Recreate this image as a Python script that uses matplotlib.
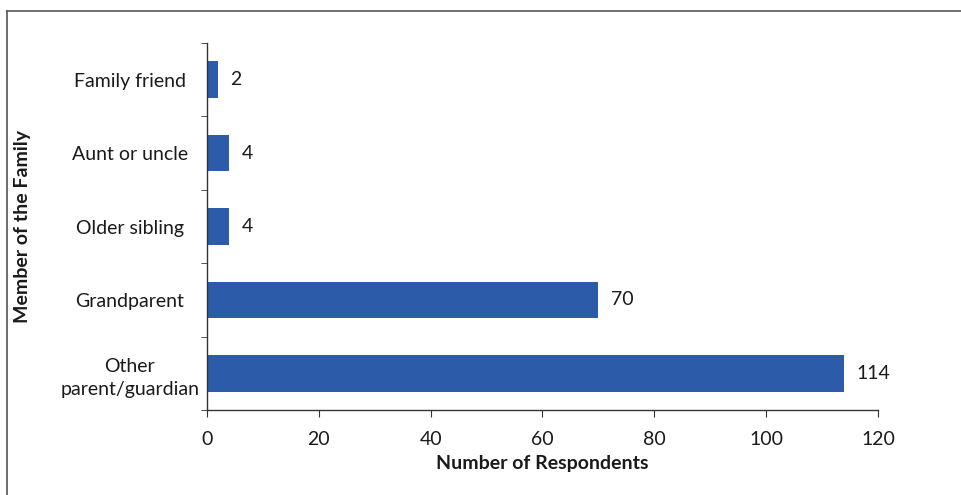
import matplotlib
matplotlib.use("Agg")
import matplotlib.pyplot as plt
from matplotlib.lines import Line2D

# categories listed bottom to top
members = ['Other\nparent/guardian', 'Grandparent', 'Older sibling', 'Aunt or uncle', 'Family friend']
respondents = [114, 70, 4, 4, 2]
xticks = [0, 20, 40, 60, 80, 100, 120]

plt.rcParams['font.family'] = ['Lato', 'DejaVu Sans']
fs = 14

fig = plt.figure(figsize=(9.61, 4.95), dpi=100)
ax = fig.add_axes([0.2154, 0.1717, 0.9136 - 0.2154, 0.9131 - 0.1717])

bars = ax.barh(range(len(members)), respondents, height=0.5, color='#2b5ba9')

for b, v in zip(bars, respondents):
    ax.text(b.get_width() + 2.2, b.get_y() + b.get_height() / 2, str(v),
            ha='left', va='center', fontsize=fs, color='#1a1a1a')

ax.set_xlim(0, 120)
ax.set_ylim(-0.5, len(members) - 0.5)
ax.set_xticks(xticks)
ax.set_xticklabels([str(t) for t in xticks], fontsize=fs, color='#1a1a1a')

ax.set_yticks(range(len(members)))
ax.set_yticklabels(members, fontsize=fs, color='#1a1a1a', ha='center', multialignment='center',
                   linespacing=1.45)
ax.tick_params(axis='y', length=0, pad=55.5)
# minor ticks at the category boundaries, as in the original
ax.set_yticks([i - 0.5 for i in range(len(members) + 1)], minor=True)
ax.tick_params(axis='y', which='minor', length=4, direction='out', color='#333333')
ax.tick_params(axis='x', length=5, direction='out', color='#333333', pad=10)

for s in ['top', 'right']:
    ax.spines[s].set_visible(False)
for s in ['left', 'bottom']:
    ax.spines[s].set_color('#333333')
    ax.spines[s].set_linewidth(1.0)

ax.set_xlabel('Number of Respondents', fontsize=fs, fontweight='bold', color='#1a1a1a', labelpad=5)
ax.set_ylabel('Member of the Family', fontsize=fs, fontweight='bold', color='#1a1a1a')
ax.yaxis.set_label_coords(-0.262, 0.5)

# border of the scanned chart frame (left and top only)
fig.add_artist(Line2D([0.0075, 0.0075], [0.0, 0.978], transform=fig.transFigure, color='#555555', lw=1.2))
fig.add_artist(Line2D([0.0075, 1.0], [0.978, 0.978], transform=fig.transFigure, color='#555555', lw=1.2))

fig.savefig('out.png', dpi=100)
